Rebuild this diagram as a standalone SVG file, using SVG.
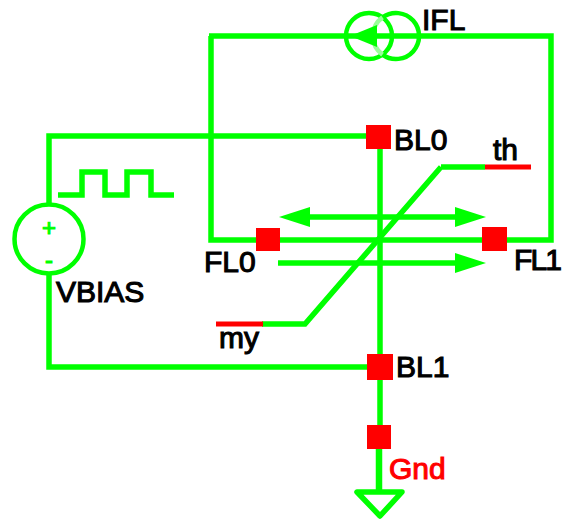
<svg xmlns="http://www.w3.org/2000/svg" width="562" height="520" viewBox="0 0 562 520">
<style>
.w{fill:none;stroke:#0f0;stroke-width:5.5}
.c{fill:none;stroke:#0f0;stroke-width:4.5}
.r{fill:none;stroke:#f00;stroke-width:5}
.h{fill:#0f0}
.n{fill:#f00}
text{font-family:"Liberation Sans",Arial,sans-serif;font-size:30px;fill:#000;stroke:#000;stroke-width:1.1}
.sign{fill:#0f0;stroke:#0f0;font-size:24px;text-anchor:middle}
</style>
<rect width="562" height="520" fill="#fff"/>
<g id="connectors">
<path class="w" d="M209 36H551V240H211V36"/>
<path class="w" d="M366 136H49V205M49 275V367H367"/>
<path class="w" d="M380 148V354M380 380V425"/>
<path class="w" d="M379 449V492" style="stroke-width:6.5"/>
<path class="w" d="M441 167L305 324H262M441 167H485"/>
<path class="w" d="M58 195H82V172H105V195H127V172H151V195H174"/>
<path class="w" d="M305 217H460"/>
<path class="h" d="M279 217L310 207V227Z"/>
<path class="h" d="M486 217L455 207V227Z"/>
<path class="w" d="M278 263H460"/>
<path class="h" d="M486 263L455 253V273Z"/>
</g>
<g id="IFL">
<circle class="c" cx="369" cy="36" r="23"/>
<path class="c" d="M382.5 17.4A23 23 0 1 1 382.5 54.6"/>
<path class="c" style="stroke:#9f9" d="M382.5 54.6A23 23 0 0 1 382.5 17.4"/>
<path class="h" d="M350 36L377 25V47Z"/>
<text x="422" y="30">IFL</text>
</g>
<g id="VBIAS">
<circle class="c" cx="49" cy="239" r="34.5"/>
<text class="sign" x="49" y="236">+</text>
<text class="sign" x="49" y="268">-</text>
<text x="56" y="302">VBIAS</text>
</g>
<g id="BL0"><rect class="n" x="366" y="125" width="25" height="24"/><text x="394" y="150">BL0</text></g>
<g id="BL1"><rect class="n" x="367" y="354" width="26" height="26"/><text x="396" y="377">BL1</text></g>
<g id="FL0"><rect class="n" x="256" y="228" width="24" height="23"/><text x="204" y="272">FL0</text></g>
<g id="FL1"><rect class="n" x="482" y="227" width="25" height="24"/><text x="514" y="270" textLength="48">FL1</text></g>
<g id="th"><path class="r" d="M485 167H531"/><text x="493" y="160">th</text></g>
<g id="my"><path class="r" d="M216 324H263"/><text x="219" y="348">my</text></g>
<g id="Gnd"><rect class="n" x="367" y="425" width="24" height="24"/><text x="389" y="479" style="fill:#f00;stroke:#f00">Gnd</text>
<path class="w" d="M357 492H402L380 516Z" style="stroke-linejoin:round"/></g>
</svg>
